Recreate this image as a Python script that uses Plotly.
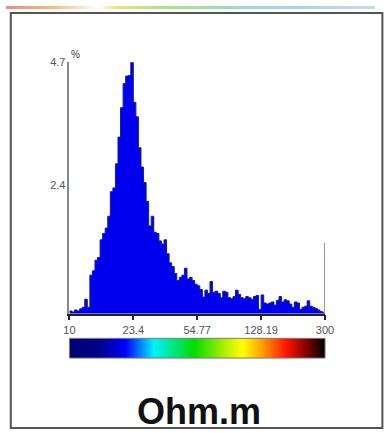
import numpy as np
import plotly.graph_objects as go

# ---- data ----
x_min, x_max = 10, 300          # resistivity range (Ohm.m), log-spaced bins
n_bins = 100
pct = [0.05, 0.03, 0.07, 0.05, 0.09, 0.12, 0.27, 0.12, 0.72, 0.80,
       1.00, 1.05, 1.38, 1.50, 1.60, 1.82, 2.28, 2.35, 2.80, 3.30,
       3.85, 4.30, 4.44, 4.45, 4.70, 3.95, 3.68, 3.10, 2.74, 2.45,
       2.10, 1.64, 1.82, 1.52, 1.50, 1.36, 1.30, 1.38, 1.12, 0.95,
       0.88, 0.75, 0.62, 0.68, 0.72, 0.85, 0.65, 0.68, 0.62, 0.55,
       0.52, 0.45, 0.31, 0.44, 0.38, 0.60, 0.40, 0.42, 0.38, 0.30,
       0.42, 0.40, 0.30, 0.28, 0.32, 0.44, 0.36, 0.30, 0.28, 0.32,
       0.30, 0.27, 0.32, 0.34, 0.08, 0.35, 0.20, 0.18, 0.20, 0.22,
       0.16, 0.25, 0.32, 0.22, 0.26, 0.24, 0.18, 0.12, 0.22, 0.20,
       0.08, 0.12, 0.14, 0.24, 0.14, 0.12, 0.10, 0.07, 0.04, 0.02]
cutoff_value = 300
cutoff_pct = 1.33
x_ticks = [10, 23.4, 54.77, 128.19, 300]
x_ticktext = ["10", "23.4", "54.77", "128.19", "300"]
y_ticks = [2.4, 4.7]
y_ticktext = ["2.4", "4.7"]
unit_label = "Ohm.m"

W, H = 384, 433
def px_x(p): return p / W
def px_y(p): return 1 - p / H

edges = np.logspace(np.log10(x_min), np.log10(x_max), n_bins + 1)
ys = list(pct) + [pct[-1]]

fig = go.Figure()

# histogram as filled step line
fig.add_trace(go.Scatter(
    x=edges, y=ys, mode="lines", line_shape="hv",
    line=dict(color="#1c1c90", width=1),
    fill="tozeroy", fillcolor="#0000ee",
    hoverinfo="skip", showlegend=False, xaxis="x", yaxis="y"))

# cutoff marker line
fig.add_trace(go.Scatter(
    x=[cutoff_value, cutoff_value], y=[0, cutoff_pct], mode="lines",
    line=dict(color="#b08a8a", width=2), showlegend=False,
    hoverinfo="skip", xaxis="x", yaxis="y"))

# colour bar
ramp = np.linspace(0, 1, 256)
cbar_scale = [[0, "#000070"], [0.12, "#00008c"], [0.22, "#0000ff"],
              [0.33, "#00f0ff"], [0.49, "#00dd00"], [0.62, "#c0f000"],
              [0.68, "#ffff00"], [0.76, "#ff9900"], [0.85, "#ff1500"],
              [0.93, "#800000"], [1, "#000000"]]
fig.add_trace(go.Heatmap(z=[ramp], colorscale=cbar_scale, showscale=False,
                         hoverinfo="skip", xaxis="x2", yaxis="y2"))

# faint rainbow strip at the very top
strip_scale = [[0, "#f08a8a"], [0.12, "#f4b878"], [0.25, "#ffffff"],
               [0.3, "#e6e478"], [0.45, "#a8e08a"], [0.6, "#98dcc0"],
               [0.75, "#a8d0f0"], [1, "#c8d6ee"]]
fig.add_trace(go.Heatmap(z=[ramp], colorscale=strip_scale, showscale=False,
                         hoverinfo="skip", xaxis="x3", yaxis="y3"))

fig.update_layout(
    width=W, height=H, autosize=False,
    margin=dict(l=0, r=0, t=0, b=0),
    paper_bgcolor="white", plot_bgcolor="white",
    font=dict(family="Liberation Sans, Arial, sans-serif"),
    xaxis=dict(type="log", range=[np.log10(x_min), np.log10(x_max)],
               domain=[px_x(66), px_x(332)], anchor="y",
               showline=True, linecolor="#222", linewidth=1.5,
               ticks="outside", ticklen=5, tickcolor="#222", tickwidth=1.5,
               tickvals=x_ticks, ticktext=x_ticktext,
               tickfont=dict(size=11, color="#555"),
               showgrid=False, zeroline=False),
    yaxis=dict(range=[0, 4.7], domain=[px_y(312), px_y(57)], anchor="x",
               showline=True, linecolor="#888", linewidth=1.5,
               ticks="", tickvals=y_ticks, ticktext=y_ticktext,
               tickfont=dict(size=11, color="#555"),
               showgrid=False, zeroline=False),
    xaxis2=dict(domain=[px_x(66), px_x(332)], anchor="y2", visible=False,
                range=[-0.5, 255.5]),
    yaxis2=dict(domain=[px_y(357), px_y(337)], anchor="x2", visible=False,
                range=[-0.5, 0.5]),
    xaxis3=dict(domain=[0, 1], anchor="y3", visible=False,
                range=[-0.5, 255.5]),
    yaxis3=dict(domain=[px_y(3), 1], anchor="x3", visible=False,
                range=[-0.5, 0.5]),
)

# outer frame
fig.add_shape(type="rect", xref="paper", yref="paper",
              x0=px_x(5), x1=1.02, y0=px_y(428), y1=px_y(7),
              line=dict(color="#555", width=2), fillcolor="rgba(0,0,0,0)")
# colour bar outline
fig.add_shape(type="rect", xref="paper", yref="paper",
              x0=px_x(66), x1=px_x(332), y0=px_y(357), y1=px_y(337),
              line=dict(color="#777", width=1), fillcolor="rgba(0,0,0,0)")

fig.add_annotation(text="%", xref="paper", yref="paper",
                   x=px_x(66), y=px_y(57), xanchor="left", yanchor="bottom",
                   showarrow=False, font=dict(size=10, color="#333"))
fig.add_annotation(text="<b>" + unit_label + "</b>", xref="paper", yref="paper",
                   x=px_x(201), y=px_y(411), xanchor="center", yanchor="middle",
                   showarrow=False, font=dict(size=36, color="#111",
                                              family="Liberation Sans, Arial"))

post = (
    "document.documentElement.style.margin='0';"
    "document.body.style.margin='0';"
    "document.body.style.padding='0';"
    "document.body.style.overflow='hidden';"
    "document.documentElement.style.overflow='hidden';"
)

fig.write_html("out.html", config={"displayModeBar": False}, post_script=post)
